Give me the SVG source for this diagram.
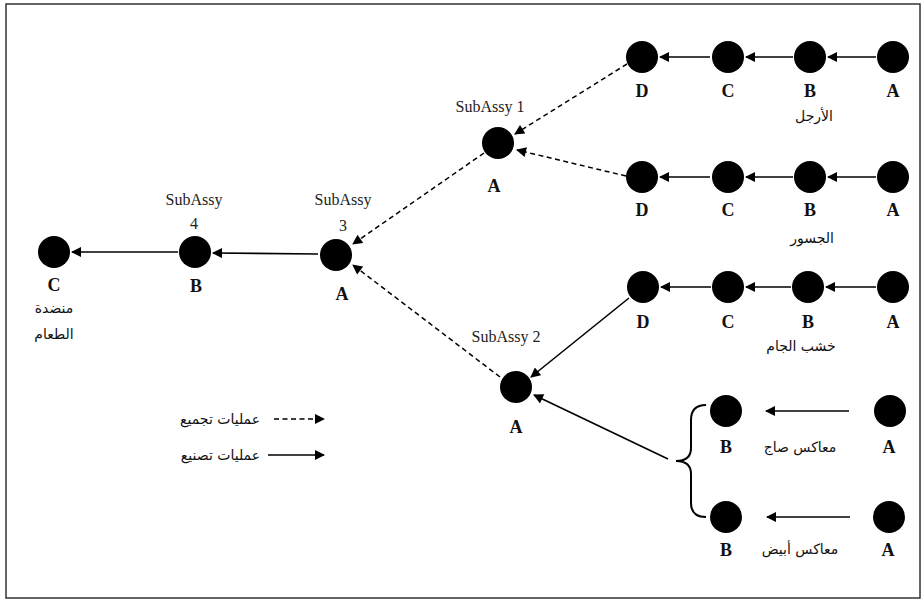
<svg xmlns="http://www.w3.org/2000/svg" width="924" height="601" viewBox="0 0 924 601">
<defs>
<marker id="ah" viewBox="0 0 10 10" refX="9" refY="5" markerWidth="11" markerHeight="10" markerUnits="userSpaceOnUse" orient="auto">
<path d="M0,0 L10,5 L0,10 z" fill="#000"/>
</marker>
</defs>
<style>
.n{fill:#000}
.s{stroke:#000;stroke-width:1.6;fill:none;marker-end:url(#ah)}
.d{stroke:#000;stroke-width:1.5;fill:none;stroke-dasharray:5,3.5;marker-end:url(#ah)}
.l{font-family:"Liberation Serif",serif;font-weight:bold;font-size:18px;text-anchor:middle;fill:#111}
.sa{font-family:"Liberation Serif",serif;font-size:16px;text-anchor:middle;fill:#222}
.ar{font-family:"DejaVu Sans",sans-serif;font-size:14px;text-anchor:middle;fill:#111}
</style>
<rect x="6" y="4" width="914" height="594" fill="#fff" stroke="#333" stroke-width="1.5"/>
<g id="connectors">
<line class="s" x1="178" y1="252" x2="72" y2="252"/>
<line class="s" x1="318" y1="254" x2="213" y2="253"/>
<line class="d" x1="627" y1="64" x2="515" y2="134"/>
<line class="d" x1="626" y1="176" x2="517" y2="150"/>
<line class="d" x1="484" y1="153" x2="353" y2="244"/>
<line class="d" x1="500" y1="377" x2="353" y2="265"/>
<line class="s" x1="629" y1="298" x2="531" y2="377"/>
<line class="s" x1="668" y1="459" x2="534" y2="395"/>
<line class="s" x1="710" y1="57" x2="660" y2="57"/>
<line class="s" x1="793" y1="57" x2="746" y2="57"/>
<line class="s" x1="876" y1="57" x2="828" y2="57"/>
<line class="s" x1="710" y1="177" x2="660" y2="177"/>
<line class="s" x1="793" y1="177" x2="746" y2="177"/>
<line class="s" x1="876" y1="177" x2="828" y2="177"/>
<line class="s" x1="711" y1="287" x2="661" y2="287"/>
<line class="s" x1="791" y1="287" x2="746" y2="287"/>
<line class="s" x1="876" y1="287" x2="826" y2="287"/>
<line class="s" x1="849" y1="411" x2="766" y2="411"/>
<line class="s" x1="850" y1="517" x2="767" y2="517"/>
<path d="M706,405 Q691,405 691,420 L691,448 Q691,461 676,461 Q691,461 691,474 L691,503 Q691,517 706,517" fill="none" stroke="#000" stroke-width="2"/>
<line class="d" x1="274" y1="419" x2="324" y2="419"/>
<line class="s" x1="268" y1="455" x2="324" y2="455"/>
</g>
<g id="nC"><circle class="n" cx="54" cy="252" r="16"/><text class="l" x="54" y="291">C</text><text class="ar" x="54" y="313">منضدة</text><text class="ar" x="54" y="339">الطعام</text></g>
<g id="nSA4"><circle class="n" cx="195" cy="252" r="16"/><text class="sa" x="194" y="205">SubAssy</text><text class="sa" x="194" y="229">4</text><text class="l" x="196" y="292">B</text></g>
<g id="nSA3"><circle class="n" cx="336" cy="255" r="16"/><text class="sa" x="343" y="205">SubAssy</text><text class="sa" x="343" y="231">3</text><text class="l" x="342" y="300">A</text></g>
<g id="nSA1"><circle class="n" cx="498" cy="143" r="16"/><text class="sa" x="490" y="112">SubAssy 1</text><text class="l" x="494" y="192">A</text></g>
<g id="nSA2"><circle class="n" cx="516" cy="387" r="16"/><text class="sa" x="506" y="342">SubAssy 2</text><text class="l" x="516" y="433">A</text></g>
<g id="r1D"><circle class="n" cx="642" cy="57" r="16"/><text class="l" x="642" y="97">D</text></g>
<g id="r1C"><circle class="n" cx="728" cy="57" r="16"/><text class="l" x="728" y="97">C</text></g>
<g id="r1B"><circle class="n" cx="810" cy="57" r="16"/><text class="l" x="810" y="97">B</text><text class="ar" x="814" y="121">الأرجل</text></g>
<g id="r1A"><circle class="n" cx="893" cy="57" r="16"/><text class="l" x="893" y="97">A</text></g>
<g id="r2D"><circle class="n" cx="642" cy="177" r="16"/><text class="l" x="642" y="216">D</text></g>
<g id="r2C"><circle class="n" cx="728" cy="177" r="16"/><text class="l" x="728" y="216">C</text></g>
<g id="r2B"><circle class="n" cx="810" cy="177" r="16"/><text class="l" x="810" y="216">B</text><text class="ar" x="812" y="243">الجسور</text></g>
<g id="r2A"><circle class="n" cx="893" cy="177" r="16"/><text class="l" x="893" y="216">A</text></g>
<g id="r3D"><circle class="n" cx="643" cy="287" r="16"/><text class="l" x="643" y="328">D</text></g>
<g id="r3C"><circle class="n" cx="728" cy="287" r="16"/><text class="l" x="728" y="328">C</text></g>
<g id="r3B"><circle class="n" cx="808" cy="287" r="16"/><text class="l" x="808" y="328">B</text><text class="ar" x="801" y="351">خشب الجام</text></g>
<g id="r3A"><circle class="n" cx="893" cy="287" r="16"/><text class="l" x="893" y="328">A</text></g>
<g id="r4B"><circle class="n" cx="726" cy="411" r="16"/><text class="l" x="726" y="453">B</text></g>
<g id="r4A"><circle class="n" cx="890" cy="411" r="16"/><text class="l" x="889" y="453">A</text><text class="ar" x="800" y="452">معاكس صاج</text></g>
<g id="r5B"><circle class="n" cx="726" cy="517" r="16"/><text class="l" x="726" y="556">B</text></g>
<g id="r5A"><circle class="n" cx="889" cy="517" r="16"/><text class="l" x="888" y="556">A</text><text class="ar" x="800" y="554">معاكس أبيض</text></g>
<g id="legend"><text class="ar" x="260" y="424" style="text-anchor:end">عمليات تجميع</text><text class="ar" x="260" y="460" style="text-anchor:end">عمليات تصنيع</text></g>
</svg>
